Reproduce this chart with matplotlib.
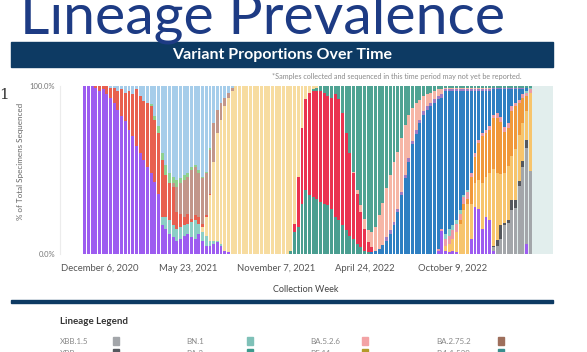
import matplotlib
matplotlib.use("Agg")
import matplotlib.pyplot as plt
from matplotlib.patches import Rectangle
import numpy as np

W, H = 587, 352
NAVY = "#0d3a63"

# weekly share (%) per lineage, first bar = week of Nov 8 2020, 122 weeks
# listed bottom -> top of the stack
other = ([100, 100, 100, 99, 97, 98, 95, 93, 90, 86, 82, 79, 74, 70, 64, 60, 56, 52, 48, 43, 36]
         + [17, 15, 12, 10, 8, 9, 11, 12, 10, 9, 12, 8, 5, 5, 6, 7, 5, 2, 1, 0]
         + [0] * 55
         + [2, 14, 2, 1, 2, 1, 0, 0, 0]
         + [9, 28, 27, 15, 22, 20, 2, 0, 0, 0, 0, 0, 0, 0, 0, 6, 0])
xbb15 = [0] * 111 + [2, 5, 9, 17, 18, 26, 27, 40, 51, 57, 50]
xbb = [0] * 111 + [1, 3, 8, 1, 2, 6, 5, 3, 4, 5, 0]
bq1 = ([0] * 98 + [3, 5, 7, 12, 18, 26, 30]
       + [21, 14, 17, 27, 24, 28, 45, 40, 30, 30, 32, 26, 30, 27, 22, 17, 47])
bq11 = ([0] * 102 + [2, 4, 3]
        + [16, 16, 22, 28, 26, 26, 30, 32, 31, 24, 22, 26, 25, 19, 15, 9, 0])
ba526 = ([0] * 96 + [1, 1, 4, 5, 5, 5, 4, 4, 4]
         + [2, 2, 2, 2, 2, 2, 2, 3, 3, 3, 3, 3, 2, 2, 2, 2, 2])
bn1 = ([0] * 21 + [5, 7, 8, 7, 7, 7, 6, 6, 9, 11, 6, 5, 6, 3, 2, 1, 1]
       + [0] * 60 + [3, 4, 3, 2, 2, 1, 1] + [0] * 15 + [1, 1])
ba5 = ([0] * 78 + [1, 2, 3, 5, 8, 12, 17, 25, 35, 45, 55, 64, 71, 77, 82, 86, 88, 90]
       + [93, 80, 85, 82, 80, 77, 71, 62, 59]
       + [49, 37, 29, 25, 23, 21, 15, 14, 16, 22, 20, 10, 8, 6, 3, 2, 0])
ba46 = [0] * 82 + [2] * 16 + [1] * 22 + [0, 0]
b11529 = ([0] * 56 + [2, 13, 16, 30, 38, 35, 34, 33, 31, 30, 29, 27, 22, 20, 17, 14, 11, 9, 6, 4, 2, 1]
          + [0] * 44)
ba11 = ([0] * 57 + [5, 30, 45, 54, 61, 63, 64, 66, 66, 65, 66, 73, 72, 67, 58, 49, 39, 30, 21, 13, 6, 3]
        + [0] * 43)
ba2121 = ([0] * 73 + [1, 2, 4, 6, 7, 9, 14, 20, 25, 29, 33, 36, 34, 32, 30, 26, 19, 16, 12, 9, 7, 6, 5, 4, 3]
          + [1] * 13 + [0] * 11)
ba2 = ([0] * 62 + [1, 2, 3, 4, 6, 7, 5, 8, 16, 28, 40, 51, 62, 71, 79, 86, 87, 84, 77, 68, 61, 53,
                   45, 39, 31, 23, 17, 13, 10, 8, 6, 5, 4, 3, 2, 2]
       + [1] * 24)
delta = ([0] * 32 + [3, 11, 27, 47, 64, 74, 86, 92, 97] + [100] * 15
         + [98, 82, 54, 25, 8, 4, 2, 1] + [0] * 58)
epsilon = ([0, 0, 0] + [1, 3, 2, 5, 6, 9, 11, 16, 17, 23, 25, 34, 34, 35, 38, 40, 37, 36, 34, 25, 22, 23,
                        10, 8, 5, 6, 2, 3, 4, 2, 1, 1]
           + [0] * 87)
gamma = [0] * 24 + [2, 15, 18, 22, 22, 29, 29, 26, 27, 25, 26, 23, 14, 10, 5, 3, 2] + [0] * 81
iota = [0] * 18 + [1, 2, 4, 4, 6, 6, 4, 4, 3, 3, 2, 2, 1, 2, 1, 1] + [1] + [0] * 87
alpha = ([0] * 7 + [1, 1, 3, 2, 4, 3, 5, 2, 6, 9, 10, 11, 18, 24, 40, 47, 52, 54, 56, 55, 53, 52, 48, 47,
                    50, 54, 51, 37, 22, 14, 10, 7, 4, 1]
         + [0] * 81)

series = [other, xbb15, xbb, bq1, bq11, ba526, bn1, ba5, ba46, b11529, ba11,
          ba2121, ba2, delta, epsilon, gamma, iota, alpha]
colors = ["#9d5cf0", "#a3a6aa", "#55585e", "#f7c46c", "#f0993a", "#ec9aa6", "#8ccfc6",
          "#2e7fc2", "#a07cc4", "#4a9e90", "#ea3350", "#f6b6a6", "#4fa393", "#f7dca0",
          "#e8604f", "#c2968a", "#8fd18e", "#a6cdea"]

tick_idx = [4, 28, 52, 76, 100]
tick_labels = ["December 6, 2020", "May 23, 2021", "November 7, 2021",
               "April 24, 2022", "October 9, 2022"]

legend_names = [["XBB.1.5", "BN.1", "BA.5.2.6", "BA.2.75.2"],
                ["XBB", "BA.2", "BF.11", "B.1.1.529"]]
legend_colors = [["#a3a6aa", "#7fc1b8", "#f3a3a5", "#9e6f5c"],
                 ["#55585e", "#3d9a8d", "#b49a2a", "#3a8e8e"]]

plt.rcParams["font.family"] = ["Lato", "DejaVu Sans"]

fig = plt.figure(figsize=(W / 100, H / 100), dpi=100)
fig.patch.set_facecolor("white")


def fx(px):
    return px / W


def fy(py):
    return 1 - py / H


def fit(t, width_px):
    r = fig.canvas.get_renderer()
    w = t.get_window_extent(r).width
    t.set_fontsize(t.get_fontsize() * width_px / w)


fig.canvas.draw()

# slide heading (cut off at top of screenshot)
big = fig.text(fx(20), fy(33), "Lineage Prevalence", color="#1d3b84",
               fontsize=40, va="baseline", ha="left")
fit(big, 485)
fig.text(fx(-1), fy(99), "1", color="#333333", fontsize=11, family="DejaVu Serif",
         va="baseline", ha="left")

# header band
fig.patches.append(Rectangle((fx(11), fy(67)), 542 / W, 25 / H,
                             transform=fig.transFigure, color=NAVY, zorder=0))
hdr = fig.text(fx(282), fy(54.5), "Variant Proportions Over Time", color="white",
               fontsize=11, fontweight="bold", ha="center", va="center")
fit(hdr, 220)

fig.text(fx(522), fy(76), "*Samples collected and sequenced in this time period may not yet be reported.",
         color="#8a8a8a", fontsize=5.2, ha="right", va="center")

# stacked bars
ax = fig.add_axes([fx(60), fy(254), (553 - 60) / W, (254 - 86) / H])
data = np.array(series, dtype=float)
data = data / data.sum(axis=0)
x = np.arange(data.shape[1])
ax.axvspan(117.5, 127.2, color="#e2eeed", lw=0, zorder=0)
bottom = np.zeros(len(x))
for vals, c in zip(data, colors):
    ax.bar(x, vals, bottom=bottom, width=0.8, color=c, linewidth=0, zorder=2)
    bottom += vals

ax.set_xlim(-6.75, 127.2)
ax.set_ylim(0, 1)
for s in ["top", "right", "bottom"]:
    ax.spines[s].set_visible(False)
ax.spines["left"].set_color("#ececec")
ax.spines["left"].set_linewidth(0.8)
ax.set_xticks(tick_idx)
ax.set_xticklabels(tick_labels, fontsize=6.8, color="#555555")
ax.tick_params(axis="x", length=0, pad=7)
ax.set_yticks([0, 1])
ax.set_yticklabels(["0.0%", "100.0%"], fontsize=5.5, color="#777777")
ax.tick_params(axis="y", length=0, pad=3.6)

fig.text(fx(21), fy(161), "% of Total Specimens Sequenced", rotation=90,
         fontsize=5.8, color="#666666", ha="center", va="center")
fig.text(fx(306), fy(290), "Collection Week", fontsize=6.5, color="#444444",
         ha="center", va="center")

# bottom rule + legend
fig.patches.append(Rectangle((fx(11), fy(303)), 542 / W, 3 / H,
                             transform=fig.transFigure, color=NAVY, zorder=0))
fig.text(fx(60), fy(321), "Lineage Legend", fontsize=7, fontweight="bold",
         color="#333333", ha="left", va="center")
text_x = [60, 186, 310, 436]
sw_x = [113, 247, 362, 498]
row_y = [341, 353]
for r in range(2):
    for k in range(4):
        fig.text(fx(text_x[k]), fy(row_y[r]), legend_names[r][k], fontsize=5.8,
                 color="#8a8a8a", ha="left", va="center")
        fig.patches.append(Rectangle((fx(sw_x[k]), fy(row_y[r] + 4)), 6 / W, 8 / H,
                                     transform=fig.transFigure,
                                     color=legend_colors[r][k]))

fig.savefig("out.png", dpi=100)
